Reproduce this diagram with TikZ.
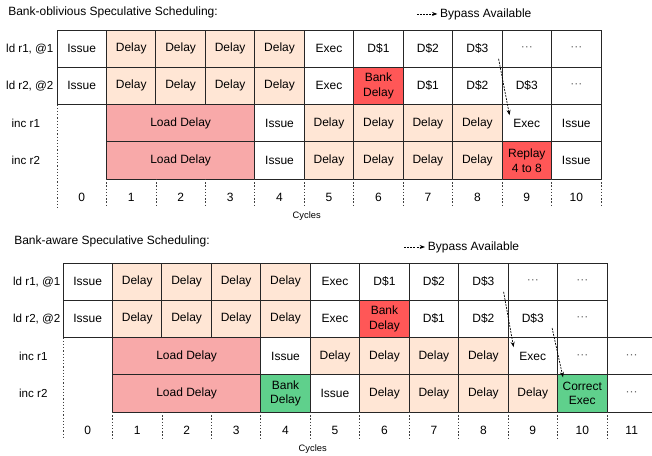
\documentclass[tikz,border=0pt]{standalone}
\usepackage{fontspec}
\setmainfont{Liberation Sans}
\usetikzlibrary{arrows.meta,calc}
\definecolor{delayfill}{HTML}{FFE6D5}
\definecolor{loadfill}{HTML}{F8A9A9}
\definecolor{bankfill}{HTML}{FF5757}
\definecolor{goodfill}{HTML}{5FD08C}
\begin{document}
\begin{tikzpicture}[x=0.75pt,y=-0.75pt,
  plaincell/.style={draw=black!85,line width=0.7pt,minimum width=37.09pt,minimum height=27.94pt,inner sep=0pt,align=center,font=\fontsize{9}{11}\selectfont},
  delaycell/.style={plaincell,fill=delayfill},
  bankcell/.style={plaincell,fill=bankfill},
  goodcell/.style={plaincell,fill=goodfill},
  loadcell/.style={plaincell,fill=loadfill,minimum width=111.27pt},
  dotcell/.style={plaincell,text=black!60},
  rowlabel/.style={inner sep=0pt,font=\fontsize{8.7}{10}\selectfont},
  numlabel/.style={inner sep=0pt,font=\fontsize{9}{10}\selectfont},
  cycleline/.style={black!75,line width=0.6pt,dash pattern=on 1pt off 1.4pt},
  bypass/.style={black,line width=0.5pt,dash pattern=on 1.5pt off 0.8pt,-{Stealth[length=4pt,width=3pt]}}]
\useasboundingbox (0,0) rectangle (652,456);
\clip (0,0) rectangle (652,456);

\node[anchor=west,inner sep=0pt,font=\fontsize{9}{10}\selectfont] (a-title) at (8,12) {Bank-oblivious Speculative Scheduling:};
\node[anchor=west,inner sep=0pt,font=\fontsize{9}{10}\selectfont] (b-title) at (14,241) {Bank-aware Speculative Scheduling:};

\begin{scope}[shift={(57,30)},x=37.09pt,y=-27.94pt]
\foreach \r/\c/\t/\s in {0/0/Issue/plaincell, 0/1/Delay/delaycell, 0/2/Delay/delaycell, 0/3/Delay/delaycell, 0/4/Delay/delaycell, 0/5/Exec/plaincell, 0/6/D\$1/plaincell, 0/7/D\$2/plaincell, 0/8/D\$3/plaincell, 0/9/···/dotcell, 0/10/···/dotcell,
  1/0/Issue/plaincell, 1/1/Delay/delaycell, 1/2/Delay/delaycell, 1/3/Delay/delaycell, 1/4/Delay/delaycell, 1/5/Exec/plaincell, 1/6/Bank\\Delay/bankcell, 1/7/D\$1/plaincell, 1/8/D\$2/plaincell, 1/9/D\$3/plaincell, 1/10/···/dotcell,
  2/4/Issue/plaincell, 2/5/Delay/delaycell, 2/6/Delay/delaycell, 2/7/Delay/delaycell, 2/8/Delay/delaycell, 2/9/Exec/plaincell, 2/10/Issue/plaincell,
  3/4/Issue/plaincell, 3/5/Delay/delaycell, 3/6/Delay/delaycell, 3/7/Delay/delaycell, 3/8/Delay/delaycell, 3/9/Replay\\4 to 8/bankcell, 3/10/Issue/plaincell}
  \node[\s] (a-\r-\c) at (\c+0.5,\r+0.5) {\t};
\foreach \r in {2,3}
  \node[loadcell] (a-\r-1) at (2.5,\r+0.5) {Load Delay};
\foreach \r/\t/\x in {0/{ld r1, @1}/-0.55, 1/{ld r2, @2}/-0.55, 2/inc r1/-0.63, 3/inc r2/-0.63}
  \node[rowlabel] (a-l\r) at (\x,\r+0.5) {\t};
\draw[cycleline] (0,2) -- (0,4.75);
\foreach \k in {1,...,11}
  \draw[cycleline] (\k,4) -- (\k,4.75);
\foreach \k in {0,...,10}
  \node[numlabel] (a-n\k) at (\k+0.5,4.5) {\k};
\node[inner sep=0pt,font=\fontsize{7}{8}\selectfont] (a-cycles) at (5.05,5) {Cycles};
\node[anchor=west,inner sep=2pt,font=\fontsize{9}{10}\selectfont] (a-leg) at (7.69,-0.43) {Bypass Available};
\coordinate (a-legtail) at (7.28,-0.43);
\draw[bypass] (a-legtail) -- (a-leg.west);
\draw[bypass] ($(a-0-8.south east)+(-0.08,-0.24)$) -- ($(a-2-9.north west)+(0.16,0.3)$);
\end{scope}

\begin{scope}[shift={(63,263)},x=37.09pt,y=-27.94pt]
\foreach \r/\c/\t/\s in {0/0/Issue/plaincell, 0/1/Delay/delaycell, 0/2/Delay/delaycell, 0/3/Delay/delaycell, 0/4/Delay/delaycell, 0/5/Exec/plaincell, 0/6/D\$1/plaincell, 0/7/D\$2/plaincell, 0/8/D\$3/plaincell, 0/9/···/dotcell, 0/10/···/dotcell,
  1/0/Issue/plaincell, 1/1/Delay/delaycell, 1/2/Delay/delaycell, 1/3/Delay/delaycell, 1/4/Delay/delaycell, 1/5/Exec/plaincell, 1/6/Bank\\Delay/bankcell, 1/7/D\$1/plaincell, 1/8/D\$2/plaincell, 1/9/D\$3/plaincell, 1/10/···/dotcell,
  2/4/Issue/plaincell, 2/5/Delay/delaycell, 2/6/Delay/delaycell, 2/7/Delay/delaycell, 2/8/Delay/delaycell, 2/9/Exec/plaincell, 2/10/···/dotcell, 2/11/···/dotcell,
  3/4/Bank\\Delay/goodcell, 3/5/Issue/plaincell, 3/6/Delay/delaycell, 3/7/Delay/delaycell, 3/8/Delay/delaycell, 3/9/Delay/delaycell, 3/10/Correct\\Exec/goodcell, 3/11/···/dotcell}
  \node[\s] (b-\r-\c) at (\c+0.5,\r+0.5) {\t};
\foreach \r in {2,3}
  \node[loadcell] (b-\r-1) at (2.5,\r+0.5) {Load Delay};
\foreach \r/\t/\x in {0/{ld r1, @1}/-0.53, 1/{ld r2, @2}/-0.53, 2/inc r1/-0.6, 3/inc r2/-0.6}
  \node[rowlabel] (b-l\r) at (\x,\r+0.5) {\t};
\draw[cycleline] (0,2) -- (0,4.72);
\foreach \k in {1,...,11}
  \draw[cycleline] (\k,4) -- (\k,4.72);
\foreach \k in {0,...,11}
  \node[numlabel] (b-n\k) at (\k+0.5,4.5) {\k};
\node[inner sep=0pt,font=\fontsize{7}{8}\selectfont] (b-cycles) at (5.05,5) {Cycles};
\node[anchor=west,inner sep=2pt,font=\fontsize{9}{10}\selectfont] (b-leg) at (7.32,-0.43) {Bypass Available};
\coordinate (b-legtail) at (6.9,-0.43);
\draw[bypass] (b-legtail) -- (b-leg.west);
\draw[bypass] ($(b-0-8.south east)+(-0.1,-0.24)$) -- ($(b-2-9.north west)+(0.12,0.27)$);
\draw[bypass] ($(b-1-9.south east)+(-0.12,-0.27)$) -- ($(b-3-10.north west)+(0.12,0.08)$);
\end{scope}
\end{tikzpicture}
\end{document}
